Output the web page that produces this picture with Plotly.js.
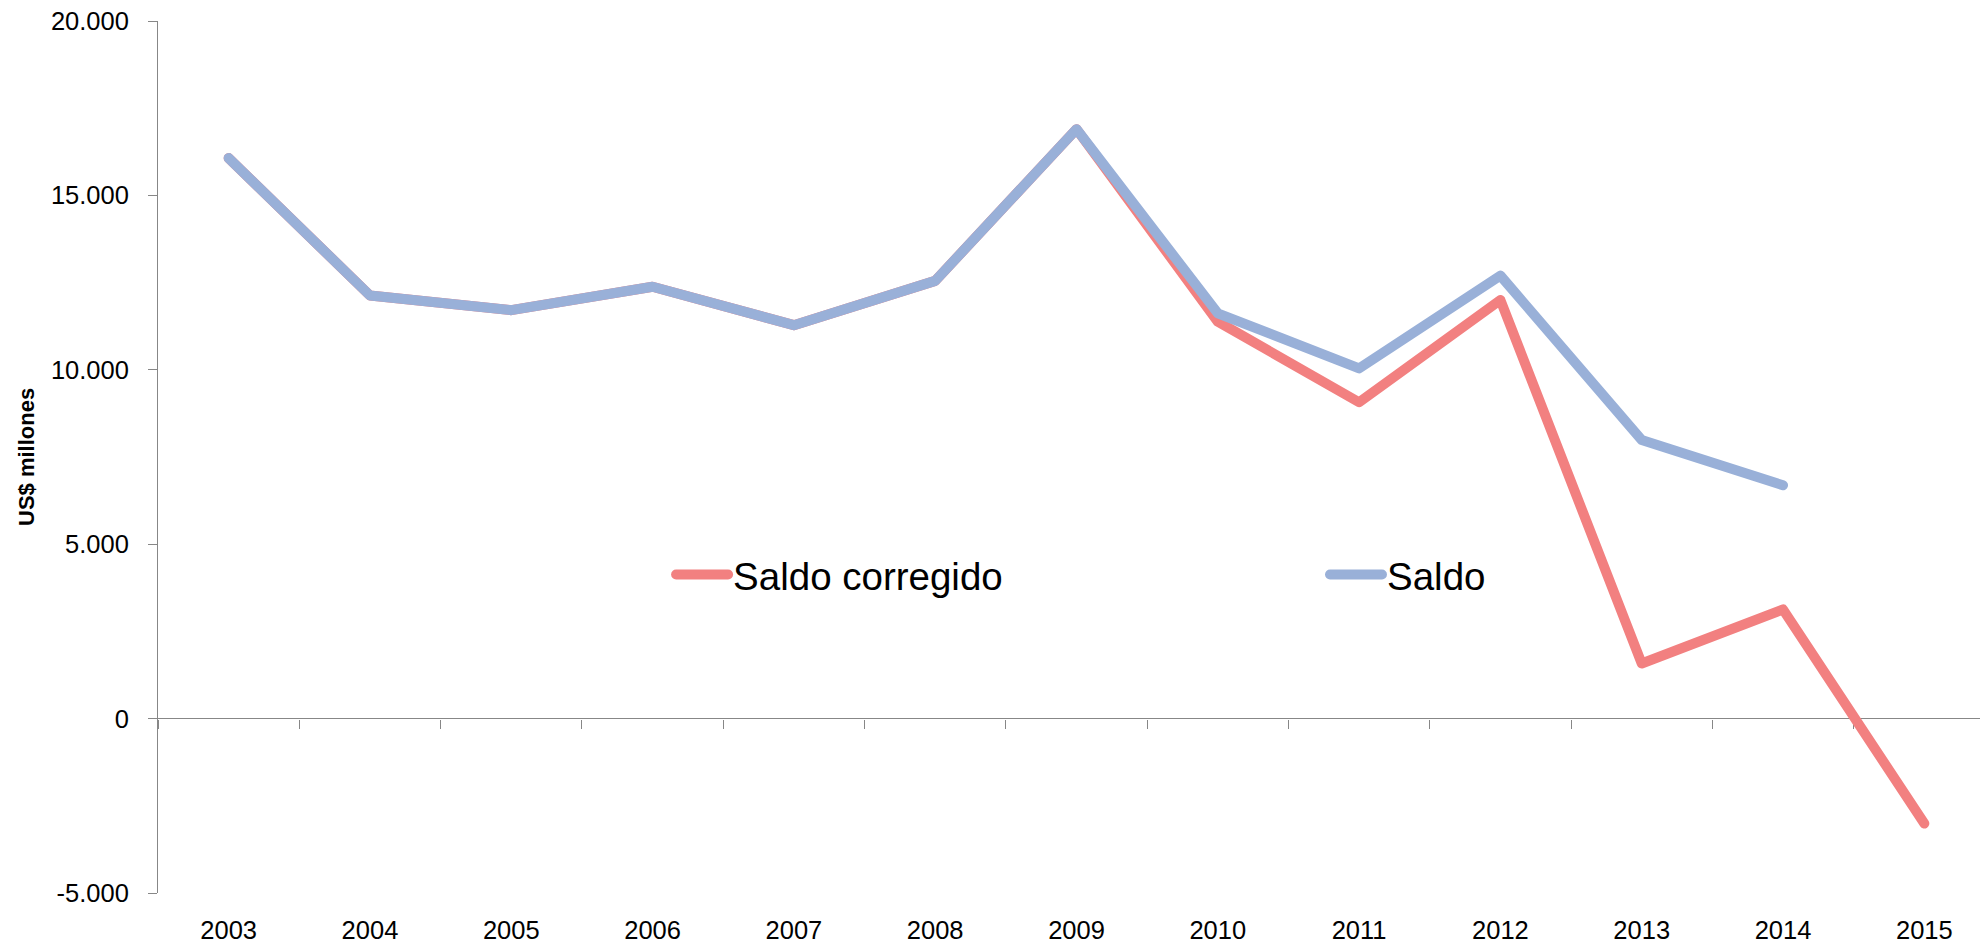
<!DOCTYPE html>
<html>
<head>
<meta charset="utf-8">
<script src="https://cdn.plot.ly/plotly-3.0.1.min.js"></script>
<style>
  html, body { margin: 0; padding: 0; background: #ffffff; }
  #chart { width: 1980px; height: 944px; }
  #chart path.js-line { stroke-linecap: round !important; stroke-linejoin: round !important; }
</style>
</head>
<body>
<div id="chart"></div>
<script>
// Categories (years)
const years = ['2003','2004','2005','2006','2007','2008','2009','2010','2011','2012','2013','2014','2015'];

// Series values (US$ millones)
const saldoCorregido = [16070, 12130, 11710, 12380, 11280, 12550, 16900, 11380, 9070, 12000, 1580, 3130, -3010];
const saldo          = [16070, 12130, 11710, 12380, 11280, 12550, 16900, 11620, 10040, 12700, 7990, 6690, null];

// Y tick values and labels
const yTickVals = [-5000, 0, 5000, 10000, 15000, 20000];
const yTickText = ['-5.000', '0', '5.000', '10.000', '15.000', '20.000'];

// Labels
const seriesNames = ['Saldo corregido', 'Saldo'];
const yTitle = 'US$ millones';

const axisGray = '#878787';
const font = 'Liberation Sans, Arial, sans-serif';

const traces = [
  {
    type: 'scatter', mode: 'lines',
    name: seriesNames[0],
    x: years, y: saldoCorregido,
    xaxis: 'x', yaxis: 'y',
    legend: 'legend',
    line: { color: '#F28080', width: 10 },
    connectgaps: false,
    hoverinfo: 'x+y'
  },
  {
    type: 'scatter', mode: 'lines',
    name: seriesNames[1],
    x: years, y: saldo,
    xaxis: 'x2', yaxis: 'y',
    legend: 'legend2',
    line: { color: '#99B0D8', width: 10 },
    connectgaps: false,
    hoverinfo: 'x+y'
  }
];

const legendFont = { family: font, size: 38.5, color: '#000000' };

const layout = {
  width: 1980, height: 944,
  paper_bgcolor: '#ffffff', plot_bgcolor: '#ffffff',
  margin: { l: 158, r: 0, t: 21, b: 51, pad: 0 },
  separators: ',.',
  font: { family: font, color: '#000000', size: 25.5 },
  showlegend: true,
  legend: {
    orientation: 'h',
    x: 0.2816, xanchor: 'left',
    y: 0.3647, yanchor: 'middle',
    font: legendFont,
    itemwidth: 52,
    bgcolor: 'rgba(0,0,0,0)'
  },
  legend2: {
    orientation: 'h',
    x: 0.6405, xanchor: 'left',
    y: 0.3647, yanchor: 'middle',
    font: legendFont,
    itemwidth: 52,
    bgcolor: 'rgba(0,0,0,0)'
  },
  xaxis: {
    type: 'category',
    categoryorder: 'array', categoryarray: years,
    range: [-0.5, 12.394],
    showline: false, showgrid: false, zeroline: false,
    ticks: '',
    showticklabels: true,
    ticklabelstandoff: 19,
    tickfont: { family: font, size: 25.5, color: '#000000' },
    fixedrange: true
  },
  xaxis2: {
    type: 'category',
    categoryorder: 'array', categoryarray: years,
    overlaying: 'x',
    matches: 'x',
    anchor: 'free', position: 0.2,
    range: [-0.5, 12.394],
    showline: false, showgrid: false, zeroline: false,
    ticks: 'outside', tickson: 'boundaries',
    ticklen: 9, tickwidth: 1, tickcolor: axisGray,
    showticklabels: false,
    layer: 'below traces',
    fixedrange: true
  },
  yaxis: {
    range: [-5000, 20000],
    tickmode: 'array', tickvals: yTickVals, ticktext: yTickText,
    showline: true, linecolor: axisGray, linewidth: 1,
    ticks: 'outside', ticklen: 9, tickwidth: 1, tickcolor: axisGray,
    showgrid: false,
    zeroline: true, zerolinecolor: axisGray, zerolinewidth: 1,
    ticklabelstandoff: 14,
    tickfont: { family: font, size: 25.5, color: '#000000' },
    fixedrange: true
  },
  annotations: [
    {
      text: yTitle,
      xref: 'paper', yref: 'paper',
      x: 0, y: 0.5,
      xanchor: 'center', yanchor: 'middle',
      xshift: -132,
      textangle: -90,
      showarrow: false,
      font: { family: font, size: 22, color: '#000000', weight: 'bold' }
    }
  ]
};

Plotly.newPlot('chart', traces, layout, { displayModeBar: false, staticPlot: true });
</script>
</body>
</html>
